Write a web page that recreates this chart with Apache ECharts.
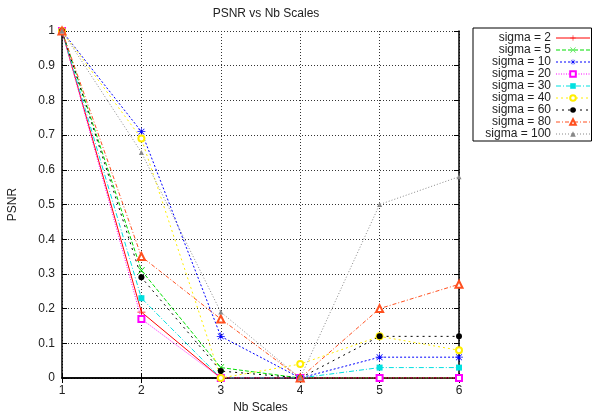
<!DOCTYPE html>
<html>
<head>
<meta charset="utf-8">
<script src="https://cdn.jsdelivr.net/npm/echarts@6/dist/echarts.min.js"></script>
<style>
html, body { margin: 0; padding: 0; background: #fff; }
#chartContainer { width: 592px; height: 411px; }
</style>
</head>
<body>
<div id="chartContainer"></div>
<script>
// Nb Scales
var scales = [1, 2, 3, 4, 5, 6];
var yTicks = [0, 0.1, 0.2, 0.3, 0.4, 0.5, 0.6, 0.7, 0.8, 0.9, 1];

var sigma2 = [1, 0.19, 0, 0, 0, 0];
var sigma5 = [1, 0.31, 0.03, 0, 0, 0];
var sigma10 = [1, 0.71, 0.12, 0, 0.06, 0.06];
var sigma20 = [1, 0.17, 0, 0, 0, 0];
var sigma30 = [1, 0.23, 0, 0, 0.03, 0.03];
var sigma40 = [1, 0.69, 0, 0.04, 0.12, 0.08];
var sigma60 = [1, 0.29, 0.02, 0, 0.12, 0.12];
var sigma80 = [1, 0.35, 0.17, 0, 0.2, 0.27];
var sigma100 = [1, 0.65, 0.19, 0, 0.5, 0.58];

var font = '"Liberation Sans", Arial, Helvetica, sans-serif';

var plusPath = 'path://M4.5,0H5.5V4.5H10V5.5H5.5V10H4.5V5.5H0V4.5H4.5Z';
var crossPath = 'path://M0,0.7L0.7,0L10,9.3L9.3,10Z M9.3,0L10,0.7L0.7,10L0,9.3Z';
var starPath = 'path://M4.6,0H5.4V4.6H10V5.4H5.4V10H4.6V5.4H0V4.6H4.6Z' +
	'M1,1.6L1.6,1L9,8.4L8.4,9Z M8.4,1L9,1.6L1.6,9L1,8.4Z';

function $each(arr, fn) { for (var i = 0; i < arr.length; i++) fn(arr[i], i); }

function pairs(values) {
	var out = [];
	$each(values, function(v, i) { out.push([scales[i], v]); });
	return out;
}

function makeSeries(name, values, color, dash, symbol, size, border) {
	return {
		name: name,
		type: 'line',
		data: pairs(values),
		symbol: symbol,
		symbolSize: size,
		showAllSymbol: true,
		animation: false,
		itemStyle: { color: color, borderColor: color, borderWidth: border },
		lineStyle: { color: color, width: 1, type: dash }
	};
}

var series = [
	makeSeries('sigma = 2', sigma2, '#ff0000', 'solid', plusPath, 8, 0),
	makeSeries('sigma = 5', sigma5, '#00dd00', [4, 2], crossPath, 7, 0),
	makeSeries('sigma = 10', sigma10, '#0000ff', [2, 2], starPath, 8, 0),
	makeSeries('sigma = 20', sigma20, '#ff00ff', [1, 1.5], 'emptyRect', 6, 1),
	makeSeries('sigma = 30', sigma30, '#00e0e0', [5, 2, 1, 2], 'rect', 6, 0),
	makeSeries('sigma = 40', sigma40, '#ffee00', [2, 3], 'emptyCircle', 6, 1),
	makeSeries('sigma = 60', sigma60, '#000000', [2, 4], 'circle', 6, 0),
	makeSeries('sigma = 80', sigma80, '#ff5020', [4, 2, 1, 2], 'emptyTriangle', 7, 1),
	makeSeries('sigma = 100', sigma100, '#888888', [1, 2], 'triangle', 5, 0)
];

var legendNames = [];
$each(series, function(s) { legendNames.push(s.name); });

var option = {
	backgroundColor: '#fff',
	animation: false,
	textStyle: { fontFamily: font },
	title: {
		text: 'PSNR vs Nb Scales',
		left: 261,
		top: 3,
		textAlign: 'center',
		textStyle: { fontSize: 12, fontWeight: 'normal', color: '#222', fontFamily: font }
	},
	legend: {
		data: legendNames,
		orient: 'vertical',
		align: 'right',
		left: 473,
		top: 28,
		padding: [4, 1, 1, 2],
		itemGap: 0,
		itemWidth: 34,
		itemHeight: 7,
		selectedMode: false,
		borderColor: '#000',
		borderWidth: 1,
		lineStyle: { width: 1 },
		formatter: function(name) { return '{a|' + name + '}'; },
		textStyle: {
			fontFamily: font,
			rich: {
				a: { width: 76, align: 'right', fontSize: 12, lineHeight: 11.5, color: '#222', fontFamily: font }
			}
		}
	},
	grid: { left: 62, top: 31, right: 133, bottom: 33, containLabel: false, outerBoundsMode: 'none' },
	xAxis: [{
		type: 'value',
		min: 1,
		max: 6,
		interval: 1,
		name: 'Nb Scales',
		nameLocation: 'middle',
		nameGap: 21,
		nameTextStyle: { fontSize: 12, color: '#222', fontFamily: font },
		axisLine: { lineStyle: { color: '#000', width: 1.5 } },
		axisTick: { inside: true, length: 5, lineStyle: { color: '#000' } },
		axisLabel: { fontSize: 12, color: '#222', margin: 7, fontFamily: font },
		splitLine: { show: true, lineStyle: { color: '#333', type: [1, 2], width: 1 } }
	}, {
		type: 'value',
		position: 'top',
		min: 1,
		max: 6,
		interval: 1,
		axisLine: { show: true, lineStyle: { color: '#000', width: 1.5 } },
		axisTick: { show: true, inside: true, length: 5, lineStyle: { color: '#000' } },
		axisLabel: { show: false },
		splitLine: { show: false }
	}],
	yAxis: [{
		type: 'value',
		min: yTicks[0],
		max: yTicks[yTicks.length - 1],
		interval: 0.1,
		name: 'PSNR',
		nameLocation: 'middle',
		nameGap: 43,
		nameRotate: 90,
		nameTextStyle: { fontSize: 12, color: '#222', fontFamily: font },
		axisLine: { show: true, lineStyle: { color: '#000', width: 1.5 } },
		axisTick: { show: true, inside: true, length: 5, lineStyle: { color: '#000' } },
		axisLabel: {
			fontSize: 12, color: '#222', margin: 7, fontFamily: font,
			formatter: function(v) { return String(Math.round(v * 10) / 10); }
		},
		splitLine: { show: true, lineStyle: { color: '#333', type: [1, 2], width: 1 } }
	}, {
		type: 'value',
		position: 'right',
		min: yTicks[0],
		max: yTicks[yTicks.length - 1],
		interval: 0.1,
		axisLine: { show: true, lineStyle: { color: '#000', width: 1.5 } },
		axisTick: { show: true, inside: true, length: 5, lineStyle: { color: '#000' } },
		axisLabel: { show: false },
		splitLine: { show: false }
	}],
	series: series
};

var chartContainer = echarts.init(document.getElementById('chartContainer'), null, { renderer: 'canvas' });
chartContainer.setOption(option);
</script>
</body>
</html>
